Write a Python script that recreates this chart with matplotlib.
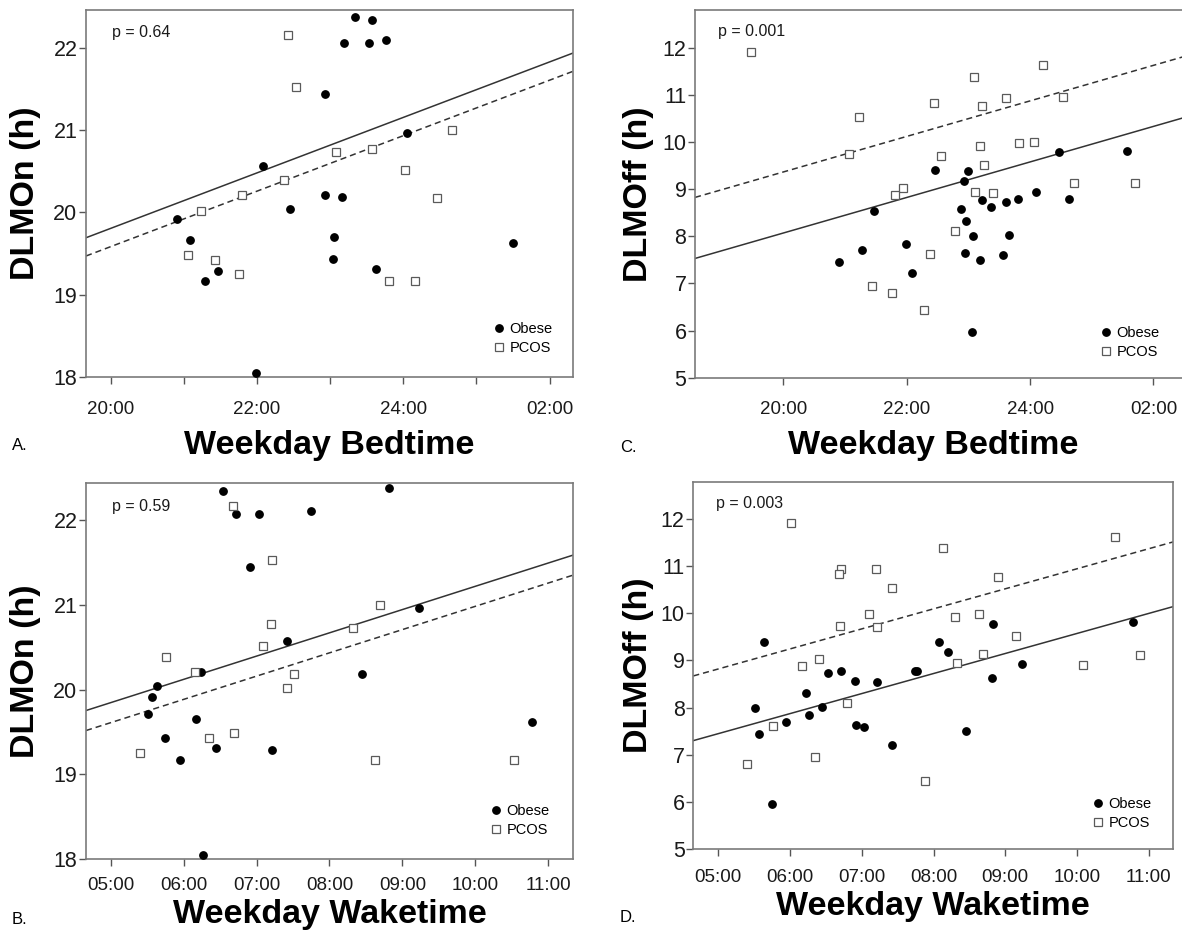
import matplotlib
matplotlib.use("Agg")
import matplotlib.pyplot as plt
import numpy as np

plt.rcParams['font.family'] = ['Liberation Sans', 'DejaVu Sans']

# ---------------- DATA ----------------
# Panel A: Weekday bedtime (h, >24 = after midnight) vs DLMOn (h)
A_obese_x = [23.34, 23.575, 23.187, 23.534, 23.762, 22.93, 22.075, 24.054, 20.907, 21.08,
             21.281, 21.464, 22.444, 22.927, 23.16, 23.046, 23.032, 23.62, 21.988, 25.504]
A_obese_y = [22.377, 22.344, 22.06, 22.06, 22.10, 21.437, 20.567, 20.96, 19.919, 19.66,
             19.166, 19.287, 20.036, 20.21, 20.186, 19.704, 19.437, 19.316, 18.053, 19.623]
A_pcos_x = [22.426, 22.531, 23.078, 23.575, 24.66, 24.027, 22.367, 21.797, 21.231, 24.46,
            21.058, 21.423, 21.751, 23.798, 24.163]
A_pcos_y = [22.162, 21.53, 20.729, 20.77, 21.0, 20.518, 20.389, 20.21, 20.016, 20.178,
            19.482, 19.425, 19.255, 19.166, 19.166]
A_fit_obese = (13.067, 0.337)   # intercept, slope
A_fit_pcos = (12.845, 0.337)
A_p = "p = 0.64"

# Panel C: Weekday bedtime vs DLMOff (h)
C_obese_x = [20.906, 21.278, 21.472, 21.995, 22.086, 22.458, 22.987, 22.933, 22.884, 22.954,
             23.073, 22.949, 23.186, 23.062, 23.213, 23.364, 23.606, 23.801, 23.655, 23.569,
             24.097, 24.469, 24.625, 25.569]
C_obese_y = [7.446, 7.70, 8.542, 7.842, 7.219, 9.405, 9.39, 9.171, 8.57, 8.322,
             7.997, 7.644, 7.502, 5.96, 8.775, 8.627, 8.726, 8.789, 8.018, 7.601,
             8.931, 9.779, 8.782, 9.808]
C_pcos_x = [19.477, 21.229, 21.062, 22.442, 22.55, 21.941, 21.806, 21.434, 21.757, 22.383,
            22.275, 22.782, 23.084, 23.213, 23.186, 23.256, 23.1, 23.407, 23.612, 23.827,
            24.065, 24.205, 24.539, 24.706, 25.703]
C_pcos_y = [11.915, 10.536, 9.737, 10.833, 9.709, 9.023, 8.881, 6.95, 6.802, 7.622,
            6.434, 8.103, 11.378, 10.755, 9.921, 9.511, 8.938, 8.91, 10.939, 9.97,
            9.991, 11.625, 10.946, 9.129, 9.122]
C_fit_obese = (0.529, 0.377)
C_fit_pcos = (1.824, 0.377)
C_p = "p = 0.001"

# Panel B: Weekday waketime vs DLMOn (h)
B_obese_x = [6.533, 6.712, 7.032, 7.746, 8.817, 6.913, 7.412, 9.233, 6.231, 5.627,
             5.558, 5.513, 5.746, 5.943, 6.162, 6.442, 7.211, 8.446, 6.263, 10.78]
B_obese_y = [22.343, 22.067, 22.067, 22.106, 22.374, 21.444, 20.57, 20.964, 20.211, 20.038,
             19.916, 19.711, 19.435, 19.167, 19.656, 19.317, 19.285, 20.188, 18.052, 19.624]
B_pcos_x = [6.68, 7.211, 8.693, 8.327, 7.197, 7.092, 5.76, 6.153, 7.517, 7.412,
            6.689, 6.341, 5.394, 8.629, 10.529]
B_pcos_y = [22.162, 21.531, 21.003, 20.727, 20.771, 20.519, 20.389, 20.211, 20.18, 20.018,
            19.486, 19.427, 19.254, 19.167, 19.167]
B_fit_obese = (18.478, 0.274)
B_fit_pcos = (18.242, 0.274)
B_p = "p = 0.59"

# Panel D: Weekday waketime vs DLMOff (h)
D_obese_x = [5.632, 5.511, 5.562, 5.748, 5.943, 6.227, 6.264, 6.45, 6.533, 6.715,
             6.9, 7.217, 6.915, 7.035, 7.416, 7.74, 7.77, 8.081, 8.197, 8.448,
             8.834, 8.815, 9.238, 10.785]
D_obese_y = [9.396, 7.999, 7.448, 5.959, 7.695, 8.316, 7.836, 8.02, 8.725, 8.768,
             8.563, 8.535, 7.639, 7.596, 7.215, 8.782, 8.782, 9.389, 9.17, 7.498,
             9.777, 8.627, 8.93, 9.805]
D_pcos_x = [6.008, 6.71, 6.677, 7.198, 8.132, 7.416, 8.903, 10.534, 7.1, 6.701,
            7.212, 8.299, 8.634, 9.15, 6.162, 6.399, 8.332, 8.694, 10.088, 10.883,
            6.798, 5.762, 6.343, 5.395, 7.886]
D_pcos_y = [11.908, 10.941, 10.829, 10.934, 11.379, 10.532, 10.758, 11.619, 9.989, 9.728,
            9.706, 9.918, 9.975, 9.509, 8.881, 9.022, 8.944, 9.128, 8.909, 9.121,
            8.097, 7.618, 6.954, 6.799, 6.439]
D_fit_obese = (5.328, 0.424)
D_fit_pcos = (6.697, 0.424)
D_p = "p = 0.003"

bed_ticks_A = [20, 21, 22, 23, 24, 25, 26]
bed_labels_A = ["20:00", "", "22:00", "", "24:00", "", "02:00"]
bed_ticks_C = [20, 22, 24, 26]
bed_labels_C = ["20:00", "22:00", "24:00", "02:00"]
wake_ticks = [5, 6, 7, 8, 9, 10, 11]
wake_labels = ["05:00", "06:00", "07:00", "08:00", "09:00", "10:00", "11:00"]
on_ticks = [18, 19, 20, 21, 22]
off_ticks = [5, 6, 7, 8, 9, 10, 11, 12]
series_labels = ["Obese", "PCOS"]
panel_letters = ["A.", "B.", "C.", "D."]
ylabels = ["DLMOn (h)", "DLMOff (h)"]
xlabels = ["Weekday Bedtime", "Weekday Waketime"]

# ---------------- FIGURE ----------------
W, H = 1182, 931
fig = plt.figure(figsize=(W / 100, H / 100), dpi=100)


def ax_at(l, t, r, b):
    return fig.add_axes([l / W, 1 - b / H, (r - l) / W, (b - t) / H])


def fpx(x, y):
    return (x / W, 1 - y / H)


FRAME = '#7a7a7a'
LINEC = '#333333'


def panel(ax, ox, oy, px_, py_, fit_o, fit_p, xlim, ylim, xt, xtl, yt, ptxt,
          xpad, ylab, xlab, xlab_xy, ylab_xy, p_xy, leg_xy):
    ax.set_xlim(xlim)
    ax.set_ylim(ylim)
    h1, = ax.plot(ox, oy, 'o', ms=5.3, mfc='black', mec='black', ls='none',
                  label=series_labels[0], zorder=3)
    h2, = ax.plot(px_, py_, 's', ms=5.8, mfc='white', mec='#5a5a5a', mew=0.9,
                  ls='none', label=series_labels[1], zorder=3)
    xs = np.array(xlim)
    ax.plot(xs, fit_o[0] + fit_o[1] * xs, '-', color=LINEC, lw=1.1, zorder=2)
    ax.plot(xs, fit_p[0] + fit_p[1] * xs, color=LINEC, lw=1.1,
            ls=(0, (4, 2.6)), zorder=2)
    ax.set_xticks(xt)
    ax.set_xticklabels(xtl)
    ax.set_yticks(yt)
    ax.set_yticklabels([str(v) for v in yt])
    for s in ax.spines.values():
        s.set_color(FRAME)
        s.set_linewidth(1.2)
    ax.tick_params(axis='x', direction='out', length=5, width=1, color='#555555',
                   labelsize=13.5, pad=xpad, labelcolor='#1a1a1a')
    ax.tick_params(axis='y', direction='out', length=5, width=1, color='#555555',
                   labelsize=15.5, pad=1.2, labelcolor='#1a1a1a')
    ax.set_xlabel(xlab, fontsize=24.5, fontweight='bold', va='baseline')
    ax.xaxis.set_label_coords(*fpx(*xlab_xy), transform=fig.transFigure)
    ax.set_ylabel(ylab, fontsize=24.5, fontweight='bold', va='center',
                  rotation_mode='anchor')
    ax.yaxis.set_label_coords(*fpx(*ylab_xy), transform=fig.transFigure)
    fig.text(*fpx(*p_xy), ptxt, fontsize=11.5, va='center', ha='left',
             color='#1a1a1a')
    ax.legend(handles=[h1, h2], loc='lower left',
              bbox_to_anchor=fpx(*leg_xy), bbox_transform=fig.transFigure,
              frameon=False, borderpad=0, borderaxespad=0, handlelength=0.7,
              handletextpad=0.35, labelspacing=0.32, fontsize=10.5)


axA = ax_at(86, 10, 573, 377)
panel(axA, A_obese_x, A_obese_y, A_pcos_x, A_pcos_y, A_fit_obese, A_fit_pcos,
      (19.66, 26.32), (18, 22.46), bed_ticks_A, bed_labels_A, on_ticks, A_p,
      12, ylabels[0], xlabels[0], (329.5, 454), (26, 193.5), (111.7, 33), (494, 355))

axC = ax_at(695, 10, 1186, 377.7)
panel(axC, C_obese_x, C_obese_y, C_pcos_x, C_pcos_y, C_fit_obese, C_fit_pcos,
      (18.569, 26.527), (5, 12.8), bed_ticks_C, bed_labels_C, off_ticks, C_p,
      12, ylabels[1], xlabels[0], (933, 454), (638, 194), (718.3, 31.7), (1101, 359))

axB = ax_at(86, 482.7, 572.7, 859.3)
panel(axB, B_obese_x, B_obese_y, B_pcos_x, B_pcos_y, B_fit_obese, B_fit_pcos,
      (4.657, 11.339), (18, 22.44), wake_ticks, wake_labels, on_ticks, B_p,
      7.9, ylabels[0], xlabels[1], (329.5, 923), (26, 671), (111.7, 506), (491, 837))

axD = ax_at(693.3, 481.7, 1173.3, 849.3)
panel(axD, D_obese_x, D_obese_y, D_pcos_x, D_pcos_y, D_fit_obese, D_fit_pcos,
      (4.651, 11.343), (5, 12.78), wake_ticks, wake_labels, off_ticks, D_p,
      9.4, ylabels[1], xlabels[1], (933.3, 915), (638, 665.5), (715.7, 503.3), (1093, 830))

# panel letters
fig.text(*fpx(12, 445), panel_letters[0], fontsize=12, va='center', ha='left')
fig.text(*fpx(12, 919), panel_letters[1], fontsize=12, va='center', ha='left')
fig.text(*fpx(620, 448), panel_letters[2], fontsize=12, va='center', ha='left')
fig.text(*fpx(620, 918), panel_letters[3], fontsize=12, va='center', ha='left')

fig.savefig("out.png", dpi=100)
